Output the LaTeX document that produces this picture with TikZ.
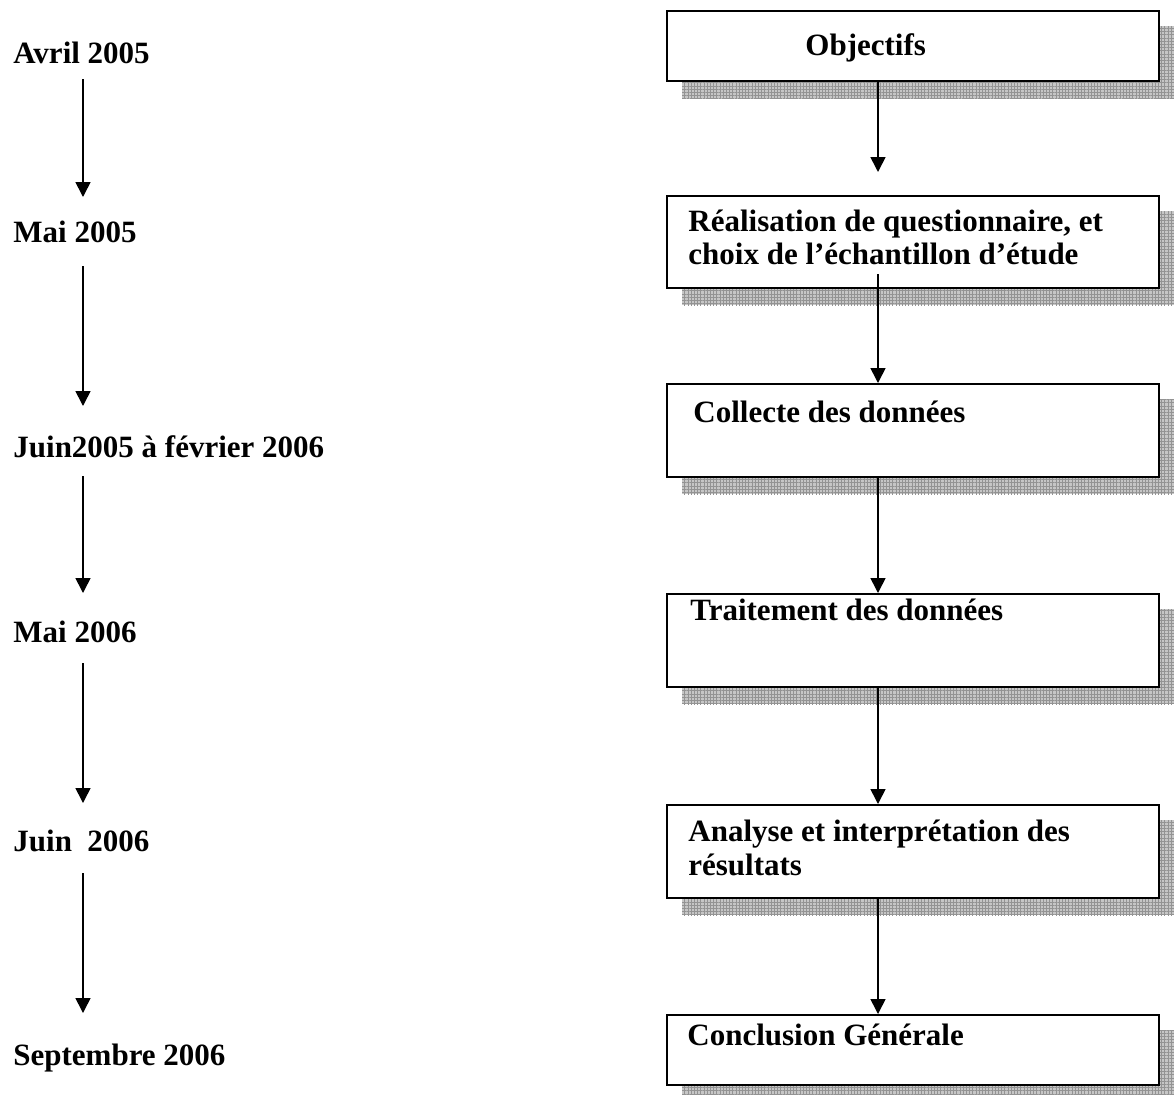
\documentclass[tikz,border=0pt]{standalone}
\usepackage{fontspec}
\setmainfont{Liberation Serif}
\usetikzlibrary{arrows.meta,calc,patterns.meta,backgrounds}
\begin{document}
\begin{tikzpicture}[x=0.5pt,y=-0.5pt,
  lbl/.style={anchor=base west,inner sep=0pt,font=\fontsize{15.5pt}{17pt}\selectfont\bfseries},
  box/.style={draw,line width=1.1pt,fill=white,minimum width=246pt,inner sep=0pt,anchor=north west},
  shadowbox/.style={fill=gray!45,postaction={pattern={Hatch[angle=0,distance=1.6pt,line width=0.35pt]},pattern color=gray!85}},
  arr/.style={line width=0.8pt,-{Triangle[width=7.5pt,length=7.5pt]}}]
\useasboundingbox (0,0) rectangle (1174,1094);
\coordinate (rx) at (878,0);
\coordinate (lx) at (83,0);

% left timeline
\node[lbl] (l1) at (13,63) {Avril 2005};
\node[lbl] (l2) at (13,242) {Mai 2005};
\node[lbl] (l3) at (13,457) {Juin2005 à février 2006};
\node[lbl] (l4) at (13,642) {Mai 2006};
\node[lbl] (l5) at (13,851) {Juin\ \ 2006};
\node[lbl] (l6) at (13,1065) {Septembre 2006};

\draw[arr] ($(l1.base -| lx)+(0,16)$) -- ($(l2.base -| lx)+(0,-45)$);
\draw[arr] ($(l2.base -| lx)+(0,24)$) -- ($(l3.base -| lx)+(0,-51)$);
\draw[arr] ($(l3.base -| lx)+(0,19)$) -- ($(l4.base -| lx)+(0,-49)$);
\draw[arr] ($(l4.base -| lx)+(0,21)$) -- ($(l5.base -| lx)+(0,-48)$);
\draw[arr] ($(l5.base -| lx)+(0,22)$) -- ($(l6.base -| lx)+(0,-52)$);

% right boxes
\node[box,minimum height=35pt] (b1) at (666,10) {};
\node[box,minimum height=46pt] (b2) at (666,195) {};
\node[box,minimum height=46.5pt] (b3) at (666,383) {};
\node[box,minimum height=46.5pt] (b4) at (666,593) {};
\node[box,minimum height=46.5pt] (b5) at (666,804) {};
\node[box,minimum height=35pt] (b6) at (666,1014) {};

\begin{scope}[on background layer]
\foreach \b in {b1,b2,b3,b4,b5,b6}
  \fill[shadowbox] ($(\b.north west)+(16,16)$) rectangle ($(\b.south east)+(16,16)$);
\end{scope}

\node[lbl] (t1) at (805,55) {Objectifs};
\node[lbl] (t2a) at (688,231) {Réalisation de questionnaire, et};
\node[lbl] (t2b) at (688,264) {choix de l’échantillon d’étude};
\node[lbl] (t3) at (693,422) {Collecte des données};
\node[lbl] (t4) at (690,620) {Traitement des données};
\node[lbl] (t5a) at (688,841) {Analyse et interprétation des};
\node[lbl] (t5b) at (688,875) {résultats};
\node[lbl] (t6) at (687,1045) {Conclusion Générale};

\draw[arr] (b1.south -| rx) -- ($(b2.north -| rx)+(0,-23)$);
\draw[arr] ($(b2.south -| rx)+(0,-15)$) -- (b3.north -| rx);
\draw[arr] (b3.south -| rx) -- (b4.north -| rx);
\draw[arr] (b4.south -| rx) -- (b5.north -| rx);
\draw[arr] (b5.south -| rx) -- (b6.north -| rx);
\end{tikzpicture}
\end{document}
